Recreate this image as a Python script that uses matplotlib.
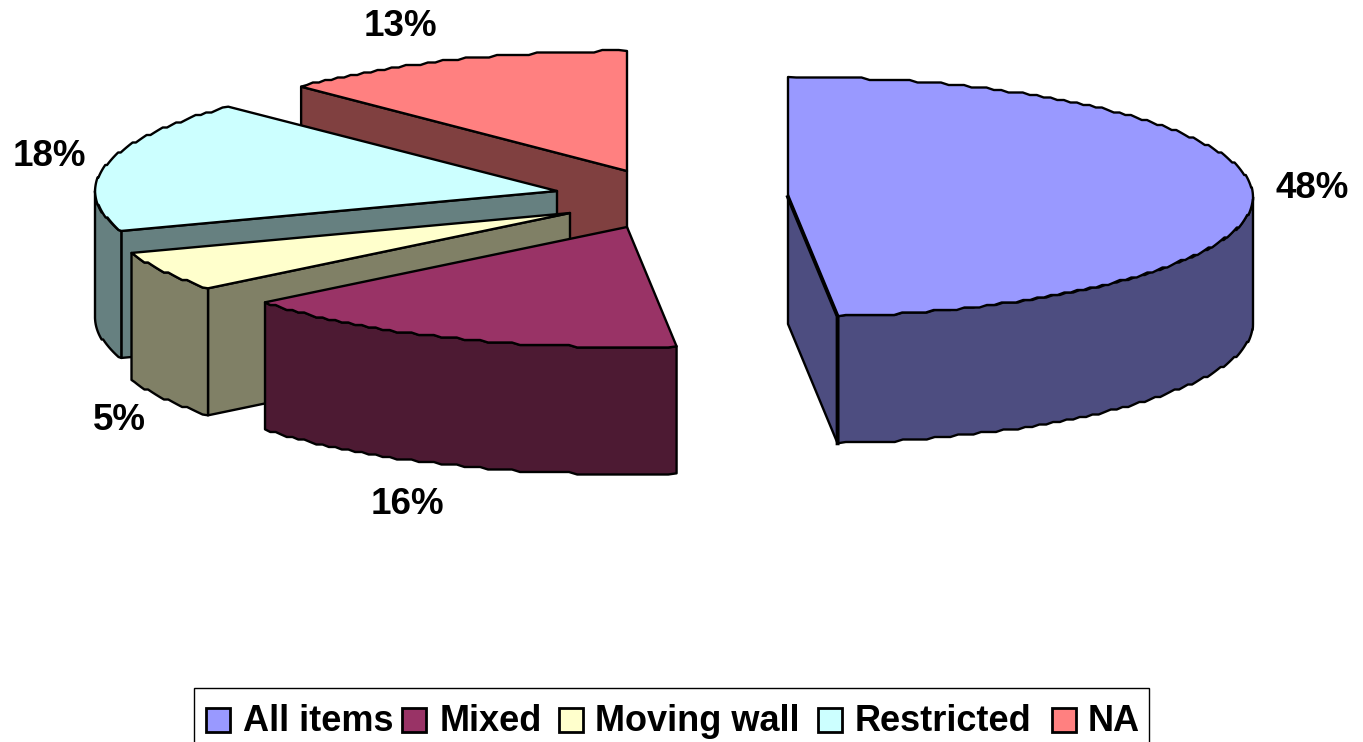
import numpy as np
import matplotlib
matplotlib.use("Agg")
import matplotlib.pyplot as plt
from matplotlib.patches import Polygon, Rectangle

plt.rcParams['font.family'] = ['Liberation Sans', 'DejaVu Sans']

categories = ["All items", "Mixed", "Moving wall", "Restricted", "NA"]
shares = [48.3, 15.9, 5.4, 17.8, 12.6]
top_colors = ["#9999FF", "#993366", "#FFFFCC", "#CCFFFF", "#FF8080"]
side_colors = ["#4D4D80", "#4D1A33", "#808066", "#668080", "#804040"]

# layout of the exploded pie, in pixels
apex_x = [788, 627, 570, 557, 627]
apex_y = [197, 227, 213, 191, 171]
radius_x = [465, 465, 465, 462, 458]
label_x = [1312, 407, 119, 49, 400]
label_y = [189, 504, 421, 156, 27]
legend_box_x = [206, 402, 559, 818, 1052]
legend_text_x = [243, 440, 595, 855, 1088]
ry = 120
depth = 127
lw = 1.7

def arc(cx, cy, rx, a0, a1):
    n = max(int((a1 - a0) * 1.0), 4)
    t = np.radians(np.linspace(a0, a1, n))
    x = cx + rx * np.sin(t)
    y = cy - ry * np.cos(t)
    # the original outline is rough, keep the steps
    y[1:-1] = np.round(y[1:-1] / 2.5) * 2.5
    return np.column_stack([x, y])

def add_poly(ax, pts, color):
    ax.add_patch(Polygon(pts, closed=True, facecolor=color, edgecolor="black",
                         lw=lw, joinstyle="round"))

fig = plt.figure(figsize=(13.63, 7.42), dpi=100)
ax = fig.add_axes([0, 0, 1, 1])
ax.set_xlim(0, 1363)
ax.set_ylim(742, 0)
ax.axis("off")

edges = np.cumsum([0] + shares) * 3.6

# back to front
for i in [4, 3, 2, 1, 0]:
    a0, a1 = edges[i], edges[i + 1]
    cx, cy = apex_x[i], apex_y[i]
    rim = arc(cx, cy, radius_x[i], a0, a1)

    # flat cut faces that look towards the viewer
    if np.sin(np.radians(a0)) < -1e-6:
        p = rim[0]
        add_poly(ax, [(cx, cy), p, (p[0], p[1] + depth), (cx, cy + depth)], side_colors[i])
    if np.sin(np.radians(a1)) > 1e-6:
        p = rim[-1]
        add_poly(ax, [(cx, cy), p, (p[0], p[1] + depth), (cx, cy + depth)], side_colors[i])

    # outer wall, only the front half of the rim
    lo, hi = max(a0, 90), min(a1, 270)
    if hi > lo:
        wall = arc(cx, cy, radius_x[i], lo, hi)
        low = wall[::-1] + [0, depth]
        add_poly(ax, np.vstack([wall, low]), side_colors[i])

    add_poly(ax, np.vstack([[(cx, cy)], rim]), top_colors[i])

    # the big slice has a heavier corner where the faces meet
    if i == 0:
        p = rim[-1]
        ax.plot([cx, p[0], p[0]], [cy, p[1], p[1] + depth], color="black", lw=2.8)

for i in range(len(shares)):
    ax.text(label_x[i], label_y[i], "{:.0f}%".format(shares[i]), ha="center", va="center",
            fontsize=26.5, fontweight="bold", color="black")

# legend, its lower edge runs off the picture
ax.add_patch(Rectangle((194, 688), 955, 80, facecolor="white", edgecolor="black", lw=1))
for i in range(len(categories)):
    ax.add_patch(Rectangle((legend_box_x[i], 708), 24, 24, facecolor=top_colors[i],
                           edgecolor="black", lw=2))
    ax.text(legend_text_x[i], 731, categories[i], ha="left", va="baseline",
            fontsize=26, fontweight="bold", color="black")

fig.savefig("out.png", dpi=100)
